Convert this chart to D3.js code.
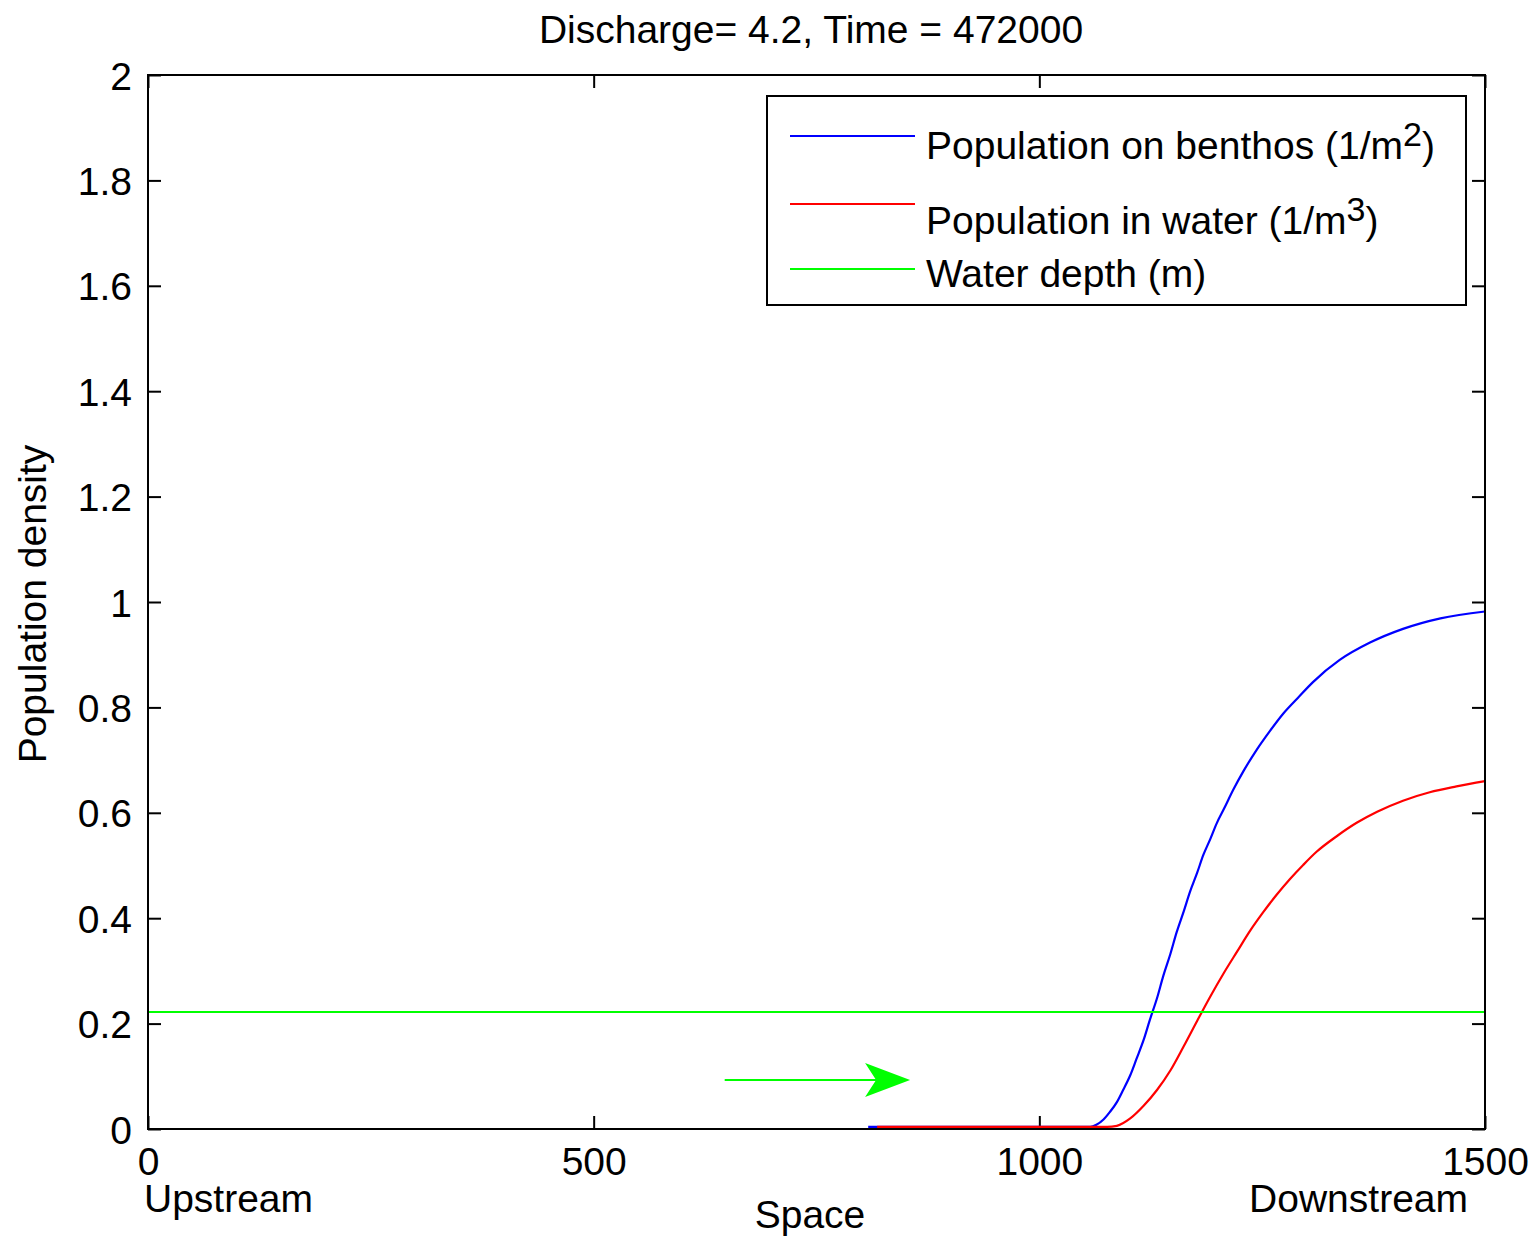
<!DOCTYPE html>
<html>
<head>
<meta charset="utf-8">
<script src="https://cdn.jsdelivr.net/npm/d3@7/dist/d3.min.js"></script>
<style>
  html, body { margin: 0; padding: 0; background: #fff; }
  svg text { font-family: "Liberation Sans", Arial, sans-serif; fill: #000; }
</style>
</head>
<body>
<svg id="chart" width="1530" height="1238"></svg>
<script>
// Population profiles along the river reach at one time step
const titleText = "Discharge= 4.2, Time = 472000";
const xTicks = [0, 500, 1000, 1500];
const yTicks = [0, 0.2, 0.4, 0.6, 0.8, 1, 1.2, 1.4, 1.6, 1.8, 2];
const yTickLabels = ["0", "0.2", "0.4", "0.6", "0.8", "1", "1.2", "1.4", "1.6", "1.8", "2"];

// benthic population (1/m^2): [space, density]
const benthos = [
  [808, 0.004], [1057, 0.004], [1064, 0.008], [1072, 0.018], [1079, 0.032], [1087, 0.051],
  [1094, 0.074], [1102, 0.102], [1109, 0.133], [1117, 0.169], [1124, 0.207],
  [1132, 0.248], [1139, 0.29], [1147, 0.332], [1154, 0.373], [1162, 0.413],
  [1169, 0.45], [1177, 0.486], [1184, 0.52], [1192, 0.551], [1199, 0.58],
  [1207, 0.607], [1218, 0.645], [1229, 0.679], [1244, 0.72], [1259, 0.756],
  [1274, 0.789], [1290, 0.818], [1307, 0.848], [1337, 0.89], [1371, 0.923],
  [1408, 0.949], [1450, 0.969], [1500, 0.982]
];

// drifting population (1/m^3): [space, density]
const water = [
  [818, 0.004], [1076, 0.004], [1087, 0.006], [1102, 0.02], [1117, 0.044], [1132, 0.074],
  [1147, 0.111], [1162, 0.157], [1177, 0.205], [1192, 0.252], [1207, 0.296],
  [1222, 0.337], [1236, 0.375], [1251, 0.411], [1266, 0.444], [1281, 0.474],
  [1296, 0.501], [1311, 0.526], [1334, 0.556], [1356, 0.581], [1379, 0.602],
  [1408, 0.623], [1438, 0.639], [1468, 0.65], [1500, 0.66]
];

// water depth (m), uniform along the reach
const depth = [[0, 0.222], [1500, 0.222]];

// flow direction arrow: [start, tip]
const flowArrow = [[647, 0.093], [855, 0.093]];

const legendItems = [
  { color: "#0000ff", text: "Population on benthos (1/m", sup: "2" },
  { color: "#ff0000", text: "Population in water (1/m", sup: "3" },
  { color: "#00ff00", text: "Water depth (m)", sup: null }
];

const svg = d3.select("#chart");
const plotL = 148, plotR = 1485, plotT = 75, plotB = 1129;
const FS = 39;

const x = d3.scaleLinear().domain([0, 1500]).range([plotL, plotR]);
const y = d3.scaleLinear().domain([0, 2]).range([plotB, plotT]);

// axes with inward ticks on all four sides
const tick = 13;
const gB = svg.append("g").attr("transform", `translate(0,${plotB})`)
  .call(d3.axisBottom(x).tickValues(xTicks).tickSize(-tick).tickPadding(18).tickFormat(d3.format("d")));
const gT = svg.append("g").attr("transform", `translate(0,${plotT})`)
  .call(d3.axisTop(x).tickValues(xTicks).tickSize(-tick).tickFormat(""));
const gL = svg.append("g").attr("transform", `translate(${plotL},0)`)
  .call(d3.axisLeft(y).tickValues(yTicks).tickSize(-tick).tickPadding(16)
    .tickFormat((d, i) => yTickLabels[i]));
const gR = svg.append("g").attr("transform", `translate(${plotR},0)`)
  .call(d3.axisRight(y).tickValues(yTicks).tickSize(-tick).tickFormat(""));

[gB, gT, gL, gR].forEach(g => {
  g.select(".domain").remove();
  g.selectAll(".tick line").attr("stroke", "#000").attr("stroke-width", 2);
  g.selectAll("text").attr("font-size", FS).attr("fill", "#000")
    .style("font-family", '"Liberation Sans", Arial, sans-serif');
});
gL.selectAll("text").attr("dy", "0.36em");

// data lines
const line = d3.line().x(d => x(d[0])).y(d => y(d[1])).curve(d3.curveMonotoneX);
const plot = svg.append("g");
plot.append("path").datum(benthos).attr("d", line)
  .attr("fill", "none").attr("stroke", "#0000ff").attr("stroke-width", 2.2);
plot.append("path").datum(water).attr("d", line)
  .attr("fill", "none").attr("stroke", "#ff0000").attr("stroke-width", 2.2);
plot.append("path").datum(depth).attr("d", line)
  .attr("fill", "none").attr("stroke", "#00ff00").attr("stroke-width", 2.2);

// flow arrow
const [a0, a1] = flowArrow;
const ax0 = x(a0[0]), ax1 = x(a1[0]), ay = y(a0[1]);
const headLen = 45, headHalf = 17, notch = 11;
plot.append("line")
  .attr("x1", ax0).attr("y1", ay).attr("x2", ax1 - headLen + notch).attr("y2", ay)
  .attr("stroke", "#00ff00").attr("stroke-width", 2.2);
plot.append("path")
  .attr("d", `M${ax1},${ay} L${ax1 - headLen},${ay - headHalf} L${ax1 - headLen + notch},${ay} L${ax1 - headLen},${ay + headHalf} Z`)
  .attr("fill", "#00ff00");

// axes box
svg.append("rect").attr("x", plotL).attr("y", plotT)
  .attr("width", plotR - plotL).attr("height", plotB - plotT)
  .attr("fill", "none").attr("stroke", "#000").attr("stroke-width", 2);

// title and axis labels
svg.append("text").attr("x", 811).attr("y", 43).attr("text-anchor", "middle")
  .attr("font-size", FS).text(titleText);
svg.append("text").attr("x", 810).attr("y", 1228).attr("text-anchor", "middle")
  .attr("font-size", FS).text("Space");
svg.append("text").attr("x", 144).attr("y", 1212).attr("text-anchor", "start")
  .attr("font-size", FS).text("Upstream");
svg.append("text").attr("x", 1468).attr("y", 1212).attr("text-anchor", "end")
  .attr("font-size", FS).text("Downstream");
svg.append("text").attr("transform", "translate(46,604) rotate(-90)")
  .attr("text-anchor", "middle").attr("font-size", FS).text("Population density");

// legend
const lg = svg.append("g");
lg.append("rect").attr("x", 767).attr("y", 96).attr("width", 699).attr("height", 209)
  .attr("fill", "#fff").attr("stroke", "#000").attr("stroke-width", 2);
const lineYs = [136, 204, 269];
const textYs = [159, 234, 287];
legendItems.forEach((it, i) => {
  lg.append("line").attr("x1", 790).attr("x2", 915)
    .attr("y1", lineYs[i]).attr("y2", lineYs[i])
    .attr("stroke", it.color).attr("stroke-width", 2.2);
  const t = lg.append("text").attr("x", 926).attr("y", textYs[i]).attr("font-size", FS);
  t.append("tspan").text(it.text);
  if (it.sup) {
    t.append("tspan").attr("dy", -13).attr("font-size", 34).text(it.sup);
    t.append("tspan").attr("dy", 13).text(")");
  }
});
</script>
</body>
</html>
